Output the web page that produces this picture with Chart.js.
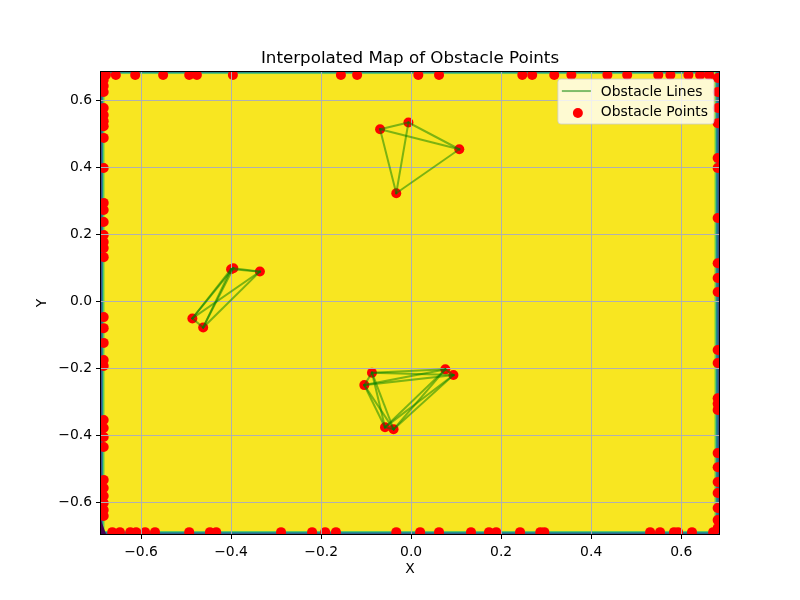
<!DOCTYPE html>
<html>
<head>
<meta charset="utf-8">
<script src="https://cdn.jsdelivr.net/npm/chart.js@4.4.1/dist/chart.umd.min.js"></script>
<style>
html,body{margin:0;padding:0;background:#ffffff;}
canvas{display:block;}
</style>
</head>
<body>
<canvas id="chart" width="800" height="600"></canvas>
<script>
// ---------------- data ----------------
const chartTitle = 'Interpolated Map of Obstacle Points';
const xAxisLabel = 'X';
const yAxisLabel = 'Y';
const seriesNames = ['Obstacle Lines', 'Obstacle Points'];

const xLimits = [-0.689, 0.684];
const yLimits = [-0.6955, 0.6836];
const xTicks = [-0.6, -0.4, -0.2, 0.0, 0.2, 0.4, 0.6];
const yTicks = [-0.6, -0.4, -0.2, 0.0, 0.2, 0.4, 0.6];

// obstacle clusters (points connected by lines)
const obstacleTopX = [-0.069, -0.006, 0.107, -0.033];
const obstacleTopY = [0.513, 0.533, 0.453, 0.322];

const obstacleLeftX = [-0.486, -0.462, -0.400, -0.395, -0.336];
const obstacleLeftY = [-0.052, -0.079, 0.095, 0.098, 0.088];

const obstacleBottomX = [-0.087, -0.104, 0.076, 0.094, -0.058, -0.039];
const obstacleBottomY = [-0.214, -0.251, -0.204, -0.221, -0.377, -0.383];

// boundary obstacle points
const boundaryLeftX = -0.683;
const boundaryLeftY = [0.672, 0.660, 0.642, 0.624, 0.576, 0.555, 0.537, 0.522, 0.487, 0.397,
  0.293, 0.272, 0.236, 0.197, 0.176, 0.158, 0.131, -0.048, -0.081, -0.125, -0.176, -0.194,
  -0.355, -0.379, -0.406, -0.436, -0.534, -0.558, -0.582, -0.603, -0.624, -0.642];

const boundaryRightX = 0.681;
const boundaryRightY = [0.666, 0.624, 0.576, 0.531, 0.427, 0.397, 0.248, 0.113, 0.069, 0.027,
  -0.146, -0.185, -0.290, -0.307, -0.325, -0.454, -0.496, -0.540, -0.573, -0.618, -0.654, -0.678];

const boundaryTopY = 0.675;
const boundaryTopX = [-0.678, -0.656, -0.613, -0.551, -0.493, -0.476, -0.396, -0.156, -0.120,
  0.016, 0.062, 0.247, 0.269, 0.318, 0.356, 0.436, 0.480, 0.549, 0.576, 0.616, 0.642, 0.662];

const boundaryBottomY = -0.690;
const boundaryBottomX = [-0.664, -0.647, -0.624, -0.611, -0.591, -0.569, -0.493, -0.447, -0.433,
  -0.289, -0.220, -0.191, -0.167, -0.033, 0.020, 0.062, 0.133, 0.173, 0.189, 0.242, 0.287, 0.296,
  0.531, 0.553, 0.584, 0.593, 0.624, 0.671];

// ---------------- build datasets ----------------
const clusters = [
  [obstacleTopX, obstacleTopY],
  [obstacleLeftX, obstacleLeftY],
  [obstacleBottomX, obstacleBottomY]
];

const pointData = [];
clusters.forEach(([xs, ys]) => xs.forEach((x, i) => pointData.push({x: x, y: ys[i]})));
boundaryLeftY.forEach(y => pointData.push({x: boundaryLeftX, y: y}));
boundaryRightY.forEach(y => pointData.push({x: boundaryRightX, y: y}));
boundaryTopX.forEach(x => pointData.push({x: x, y: boundaryTopY}));
boundaryBottomX.forEach(x => pointData.push({x: x, y: boundaryBottomY}));

const LINE_COLOR = 'rgba(0,128,0,0.5)';
const POINT_COLOR = '#ff0000';

const datasets = [{
  label: seriesNames[1],
  data: pointData,
  pointRadius: 5,
  pointHoverRadius: 5,
  pointBorderWidth: 0,
  pointBackgroundColor: POINT_COLOR,
  backgroundColor: POINT_COLOR,
  showLine: false,
  clip: 0
}];

clusters.forEach(([xs, ys]) => {
  for (let i = 0; i < xs.length; i++) {
    for (let j = i + 1; j < xs.length; j++) {
      datasets.push({
        label: seriesNames[0],
        isObstacleLine: true,
        data: [{x: xs[i], y: ys[i]}, {x: xs[j], y: ys[j]}],
        showLine: true,
        borderColor: LINE_COLOR,
        borderWidth: 2,
        borderCapStyle: 'square',
        pointRadius: 0,
        pointHoverRadius: 0,
        clip: 0
      });
    }
  }
});

// ---------------- plugins ----------------
const mapBackground = {
  id: 'mapBackground',
  beforeDraw(chart) {
    const a = chart.chartArea, ctx = chart.ctx;
    ctx.save();
    ctx.fillStyle = '#f8e621';
    ctx.fillRect(a.left, a.top, a.right - a.left, a.bottom - a.top);
    const bands = {
      left: ['#3b528b', '#21918c', '#5ec962', '#b5de2b'],
      right: ['#3b528b', '#2c728e', '#21918c', '#5ec962', '#b5de2b'],
      top: ['#21918c', '#5ec962'],
      bottom: ['#31688e', '#21918c', '#5ec962']
    };
    const w = a.right - a.left, h = a.bottom - a.top;
    for (let k = bands.top.length - 1; k >= 0; k--) { ctx.fillStyle = bands.top[k]; ctx.fillRect(a.left, a.top + k, w, 1); }
    for (let k = bands.bottom.length - 1; k >= 0; k--) { ctx.fillStyle = bands.bottom[k]; ctx.fillRect(a.left, a.bottom - 1 - k, w, 1); }
    for (let k = bands.left.length - 1; k >= 0; k--) { ctx.fillStyle = bands.left[k]; ctx.fillRect(a.left + k, a.top, 1, h); }
    for (let k = bands.right.length - 1; k >= 0; k--) { ctx.fillStyle = bands.right[k]; ctx.fillRect(a.right - 1 - k, a.top, 1, h); }
    // dark corner of the interpolated field (bottom-left)
    ctx.fillStyle = '#440154';
    ctx.beginPath();
    ctx.moveTo(a.left, a.bottom - 14);
    ctx.lineTo(a.left + 5, a.bottom);
    ctx.lineTo(a.left, a.bottom);
    ctx.closePath();
    ctx.fill();
    ctx.restore();
  }
};

const linesOnTop = {
  id: 'linesOnTop',
  beforeDatasetDraw(chart, args) {
    if (chart.data.datasets[args.index].isObstacleLine) return false;
  },
  afterDraw(chart) {
    const a = chart.chartArea, ctx = chart.ctx;
    ctx.save();
    ctx.beginPath();
    ctx.rect(a.left, a.top, a.right - a.left, a.bottom - a.top);
    ctx.clip();
    chart.data.datasets.forEach((ds, i) => {
      if (ds.isObstacleLine) chart.getDatasetMeta(i).controller.draw();
    });
    ctx.restore();

    // axes frame
    ctx.save();
    ctx.strokeStyle = '#000';
    ctx.lineWidth = 1;
    ctx.strokeRect(Math.round(a.left) - 0.5, Math.round(a.top) - 0.5,
      Math.round(a.right - a.left) + 1, Math.round(a.bottom - a.top) + 1);
    ctx.restore();

    // legend box (upper right, inside axes)
    ctx.save();
    ctx.font = '13.9px "DejaVu Sans", sans-serif';
    const tw = Math.max(...seriesNames.map(s => ctx.measureText(s).width));
    const bw = 43 + tw + 6, bh = 45;
    const bx = a.right - 5 - bw, by = a.top + 7;
    const r = 3;
    ctx.beginPath();
    ctx.moveTo(bx + r, by);
    ctx.arcTo(bx + bw, by, bx + bw, by + bh, r);
    ctx.arcTo(bx + bw, by + bh, bx, by + bh, r);
    ctx.arcTo(bx, by + bh, bx, by, r);
    ctx.arcTo(bx, by, bx + bw, by, r);
    ctx.closePath();
    ctx.fillStyle = 'rgba(255,255,255,0.8)';
    ctx.fill();
    ctx.strokeStyle = 'rgba(204,204,204,0.8)';
    ctx.lineWidth = 1;
    ctx.stroke();

    ctx.strokeStyle = LINE_COLOR;
    ctx.lineWidth = 2;
    ctx.beginPath();
    ctx.moveTo(bx + 4, by + 12);
    ctx.lineTo(bx + 33, by + 12);
    ctx.stroke();

    ctx.fillStyle = POINT_COLOR;
    ctx.beginPath();
    ctx.arc(bx + 20, by + 34, 5, 0, Math.PI * 2);
    ctx.fill();

    ctx.fillStyle = '#000';
    ctx.textBaseline = 'alphabetic';
    ctx.textAlign = 'left';
    ctx.fillText(seriesNames[0], bx + 43, by + 17);
    ctx.fillText(seriesNames[1], bx + 43, by + 37);
    ctx.restore();
  }
};

// ---------------- chart ----------------
Chart.defaults.font.family = '"DejaVu Sans", sans-serif';
Chart.defaults.color = '#000';

const fmt = v => (v < -1e-9 ? '\u2212' : '') + Math.abs(v).toFixed(1);

new Chart(document.getElementById('chart'), {
  type: 'scatter',
  data: {datasets: datasets},
  options: {
    responsive: false,
    devicePixelRatio: 1,
    animation: false,
    events: [],
    layout: {autoPadding: false, padding: {left: 20, right: 0, top: 0, bottom: 0}},
    plugins: {
      legend: {display: false},
      tooltip: {enabled: false},
      title: {
        display: true,
        text: chartTitle,
        color: '#000',
        font: {size: 16.7, weight: 'normal'},
        padding: {top: 49, bottom: 3}
      }
    },
    scales: {
      x: {
        type: 'linear',
        min: xLimits[0],
        max: xLimits[1],
        afterBuildTicks: s => { s.ticks = xTicks.map(v => ({value: v})); },
        afterFit: s => { s.height = 66; },
        ticks: {callback: v => fmt(v), font: {size: 13.9}, padding: 5, maxRotation: 0, autoSkip: false, color: '#000'},
        grid: {color: '#b0b0b0', lineWidth: 1, tickColor: '#000', tickLength: 5, tickWidth: 1, z: 1},
        border: {display: false},
        title: {display: true, text: xAxisLabel, font: {size: 13.9}, color: '#000', padding: {top: 0, bottom: 22.7}}
      },
      y: {
        type: 'linear',
        position: 'left',
        min: yLimits[0],
        max: yLimits[1],
        afterBuildTicks: s => { s.ticks = yTicks.map(v => ({value: v})); },
        afterFit: s => { s.width = 81; },
        ticks: {callback: v => fmt(v), font: {size: 13.9}, padding: 4, autoSkip: false, color: '#000'},
        grid: {color: '#b0b0b0', lineWidth: 1, tickColor: '#000', tickLength: 5, tickWidth: 1, z: 1},
        border: {display: false},
        title: {display: true, text: yAxisLabel, font: {size: 13.9}, color: '#000', padding: {top: 13.7, bottom: 0}}
      },
      yRightMargin: {
        type: 'linear',
        position: 'right',
        display: true,
        min: yLimits[0],
        max: yLimits[1],
        afterFit: s => { s.width = 81; },
        ticks: {display: false},
        grid: {display: false, drawTicks: false},
        border: {display: false},
        title: {display: false}
      }
    }
  },
  plugins: [mapBackground, linesOnTop]
});
</script>
</body>
</html>
